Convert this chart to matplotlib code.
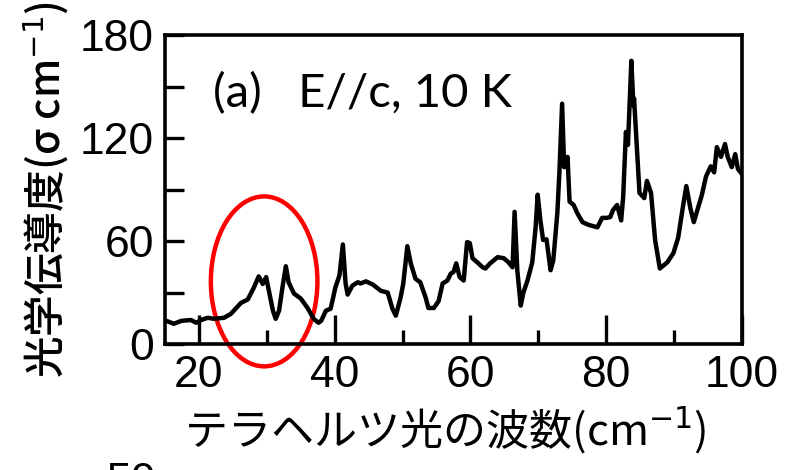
import matplotlib
matplotlib.use("Agg")
import matplotlib.pyplot as plt
from matplotlib.patches import Ellipse
from matplotlib.ticker import MultipleLocator

# wavenumber (cm-1) and optical conductivity
wavenumber = [
    15.2, 16.3, 17.4, 18.8, 19.6, 20.3, 21.3, 22.2, 23.7, 24.7, 26.2, 27.2, 28.1, 28.8,
    29.4, 29.9, 30.3, 30.9, 31.3, 31.8, 32.3, 32.8, 33.2, 34.0, 35.0, 36.0, 36.9, 37.6,
    38.0, 38.7, 39.4, 40.1, 40.7, 41.2, 41.6, 41.9, 42.6, 43.4, 43.8, 44.6, 45.6, 46.8,
    47.8, 48.5, 49.0, 49.7, 50.1, 50.7, 51.2, 51.9, 52.6, 53.4, 53.8, 54.6, 55.3, 55.9,
    56.6, 57.1, 57.5, 57.9, 58.4, 59.0,
    59.5, 59.9, 60.3, 61.0, 61.8, 62.2, 62.9, 64.0, 64.9, 65.6, 66.2, 66.5, 66.9, 67.4,
    67.8, 68.4, 69.1, 69.6, 69.9, 70.3, 70.7, 71.2, 71.8, 72.2, 72.8, 73.1, 73.5, 73.8,
    74.3, 74.6, 75.2, 75.7, 76.5, 77.4,
    78.7, 79.4, 80.1, 80.6, 81.0, 81.6, 82.2, 82.5, 82.9, 83.2, 83.7, 84.0, 84.1, 84.6,
    84.9, 85.6, 86.0, 86.6, 87.2, 87.9, 89.0, 89.9, 90.6, 91.3, 91.8, 92.4, 92.9, 93.5,
    94.1, 94.7, 95.4, 95.9, 96.3, 96.9, 97.5, 97.9, 98.5, 99.0, 99.4, 100.0,
]
conductivity = [
    13.5, 11.8, 13.5, 14, 12.4, 14, 15.3, 14.7, 15.3, 17.6, 24, 26, 33, 39.4,
    35, 39, 31, 19.4, 14.7, 19.4, 33, 45.3, 36, 29.4, 26.5, 21, 14.7, 12.4,
    13.5, 19.4, 20.6, 33, 40, 58, 35.3, 28.8, 34, 36, 35.3, 36.5, 34.7, 31,
    30, 20.6, 16.5, 27, 35.3, 57, 47, 38, 36, 27, 21, 21, 25, 35.3,
    37, 41, 42, 47, 39, 37,
    59.4, 58.8, 50, 47.6, 44.7, 44, 47, 50.6, 50, 47.6, 44.7, 77, 43, 22.4,
    30, 37, 47.6, 68, 87, 72, 60.6, 61, 43, 48.8, 76.5, 100, 140, 103,
    109, 83, 81, 76.5, 71, 69.4,
    68, 73.5, 73.5, 74, 78, 81, 72, 86, 123.5, 116, 165, 139, 143, 109,
    88, 85, 95, 88, 60.6, 44, 47.6, 53, 62, 80, 92, 79, 71, 79,
    87, 97.6, 103.5, 100, 114.7, 109, 116.5, 109, 103, 110.6, 102, 99,
]

x_ticks = [20, 40, 60, 80, 100]
y_ticks = [0, 60, 120, 180]

plt.rcParams['font.family'] = ['Liberation Sans', 'Noto Sans CJK JP', 'DejaVu Sans']
jp = ['Noto Sans CJK JP', 'DejaVu Sans']

fig = plt.figure(figsize=(7.87, 4.70), dpi=100)
ax = fig.add_axes([0.2097, 0.268, 0.7331, 0.6575])

ax.plot(wavenumber, conductivity, color='black', lw=3.2)

ax.set_xlim(15, 100)
ax.set_ylim(0, 180)
ax.set_xticks(x_ticks)
ax.set_yticks(y_ticks)
ax.xaxis.set_minor_locator(MultipleLocator(10))
ax.yaxis.set_minor_locator(MultipleLocator(30))
ax.tick_params(axis='x', which='major', direction='in', length=21, width=2.4, labelsize=32, pad=8)
ax.tick_params(axis='x', which='minor', direction='in', length=10, width=2.4)
ax.tick_params(axis='y', which='both', direction='in', length=14, width=2.4, labelsize=32, pad=8)
for s in ax.spines.values():
    s.set_linewidth(2.6)

ax.set_xlabel('テラヘルツ光の波数(cm$^{-1}$)', family=jp, fontsize=31, labelpad=8)
ax.xaxis.set_label_coords(0.485, -0.2, transform=ax.transAxes)
ax.xaxis.label.set_va('top')
ax.set_ylabel('光学伝導度(σ cm$^{-1}$)', family=jp, fontsize=30, labelpad=6,
              fontweight='medium')

ax.text(0.083, 0.81, '(a)   E//c, 10 K', transform=ax.transAxes, family='Lato',
        fontsize=34, va='center', ha='left')

ell = Ellipse((29.6, 36.5), 15.7, 99, fill=False, edgecolor='red', lw=3.2, clip_on=False)
ax.add_patch(ell)

fig.text(0.135, 0.017, '50', fontsize=32, va='top', ha='left')

fig.savefig('out.png', dpi=100)
